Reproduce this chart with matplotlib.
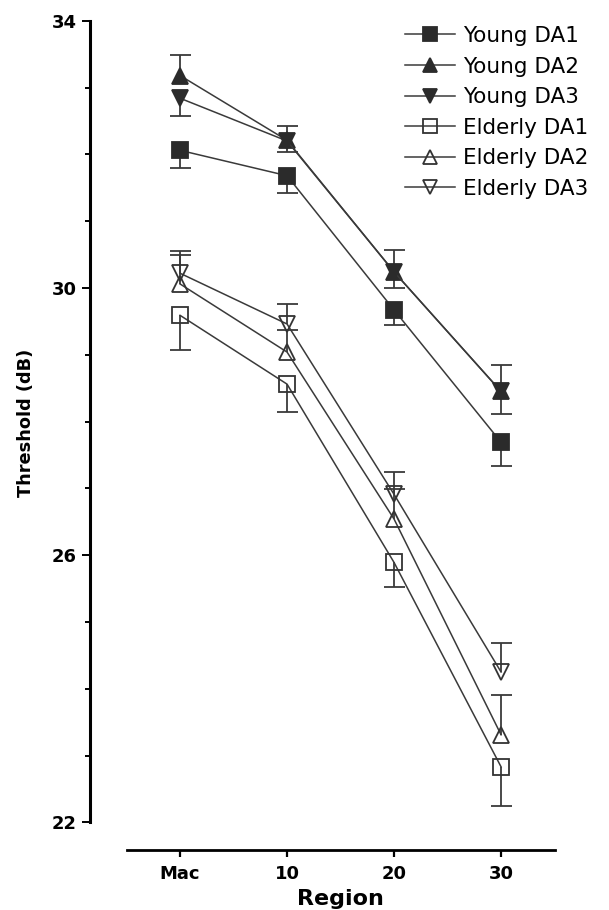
import matplotlib
matplotlib.use('Agg')
import matplotlib.pyplot as plt
import numpy as np

# ---- data ----
regions = ['Mac', '10', '20', '30']
young_da1 = [32.06, 31.68, 29.67, 27.69]
young_da1_err_lo = [0.27, 0.26, 0.23, 0.35]
young_da2 = [33.18, 32.21, 30.24, 28.45]
young_da2_err_hi = [0.31, 0.21, 0.33, 0.39]
young_da3 = [32.84, 32.20, 30.24, 28.45]
young_da3_err_lo = [0.27, 0.17, 0.24, 0.33]
elderly_da1 = [29.59, 28.56, 25.89, 22.83]
elderly_da1_err_lo = [0.52, 0.41, 0.36, 0.59]
elderly_da2 = [30.06, 29.04, 26.54, 23.31]
elderly_da2_err_hi = [0.43, 0.33, 0.45, 0.60]
elderly_da3 = [30.22, 29.46, 26.91, 24.25]
elderly_da3_err_hi = [0.34, 0.30, 0.34, 0.44]

yticks = [22, 26, 30, 34]

plt.rcParams['font.family'] = ['DejaVu Sans']

DPI = 100
fig = plt.figure(figsize=(6.09, 9.10), dpi=DPI)
ax = fig.add_axes([0.148, 0.0659, 0.7644, 0.9113])

x = np.arange(len(regions))
px = 72.0 / DPI  # points per pixel

line_col = '#3a3a3a'
fill_col = '#2b2b2b'
ms = 16 * px
lw = 1.1
mew = 1.3

series = [
    ('Young DA1', young_da1, young_da1_err_lo, 'lo', 's', True),
    ('Young DA2', young_da2, young_da2_err_hi, 'hi', '^', True),
    ('Young DA3', young_da3, young_da3_err_lo, 'lo', 'v', True),
    ('Elderly DA1', elderly_da1, elderly_da1_err_lo, 'lo', 's', False),
    ('Elderly DA2', elderly_da2, elderly_da2_err_hi, 'hi', '^', False),
    ('Elderly DA3', elderly_da3, elderly_da3_err_hi, 'hi', 'v', False),
]

handles = []
for name, vals, err, side, mk, filled in series:
    vals = np.array(vals)
    err = np.array(err)
    end = vals + err if side == 'hi' else vals - err
    ax.vlines(x, vals, end, colors=line_col, linewidth=1.3, zorder=2)
    ax.plot(x, end, ls='none', marker='_', markersize=21 * px,
            markeredgewidth=1.3, color=line_col, zorder=2)
    h, = ax.plot(x, vals, color=line_col, linewidth=lw, marker=mk,
                 markersize=ms, markeredgewidth=mew,
                 markerfacecolor=fill_col if filled else 'none',
                 markeredgecolor=fill_col if filled else '#333333',
                 label=name, zorder=3)
    handles.append(h)

ax.set_xlim(-0.84, 3.51)
ax.set_ylim(21.585, 34.0)

for s in ['top', 'right']:
    ax.spines[s].set_visible(False)
ax.spines['left'].set_bounds(22, 34)
ax.spines['bottom'].set_bounds(-0.5, 3.5)
ax.spines['left'].set_linewidth(2.2)
ax.spines['bottom'].set_linewidth(2.0)

ax.set_yticks(yticks)
ax.set_yticks(np.arange(22, 35, 1), minor=True)
ax.set_xticks(x)
ax.set_xticklabels(regions)
ax.tick_params(axis='y', which='major', length=8 * px, width=1.4,
               direction='out', labelsize=13, pad=4)
ax.tick_params(axis='y', which='minor', length=5.5 * px, width=1.4, direction='out')
ax.tick_params(axis='x', which='major', length=7 * px, width=1.6,
               direction='out', labelsize=13, pad=6)
for lab in ax.get_xticklabels() + ax.get_yticklabels():
    lab.set_fontweight('bold')

fig.text(26 / 609, 1 - 423 / 910, 'Threshold (dB)', rotation=90,
         ha='center', va='center', fontsize=12.8, fontweight='bold')
fig.text(340 / 609, 1 - 905 / 910, 'Region', ha='center', va='baseline',
         fontsize=16, fontweight='bold')

fig.legend(handles=handles, loc='upper left',
           bbox_to_anchor=(405 / 609, 1 - 26 / 910),
           frameon=False, fontsize=15.5, borderpad=0, borderaxespad=0,
           handlelength=2.3, handletextpad=0.4, labelspacing=0.49,
           markerscale=0.85)

fig.savefig('out.png', dpi=DPI)
